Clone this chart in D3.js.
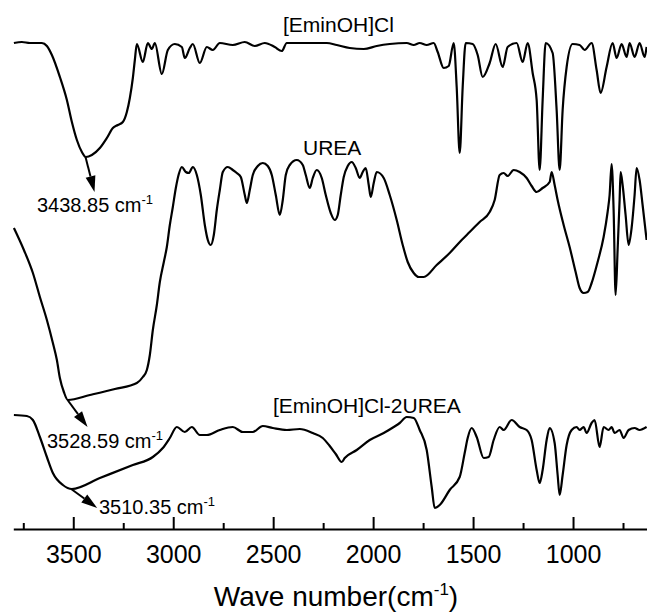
<!DOCTYPE html>
<html><head><meta charset="utf-8">
<script src="https://cdn.jsdelivr.net/npm/d3@7"></script>
<style>
html,body{margin:0;padding:0;background:#fff;}
text{font-family:"Liberation Sans",Arial,sans-serif;fill:#000;}
</style></head>
<body><svg id="chart" width="647" height="616"></svg>
<script>
// wave numbers (cm^-1) and transmittance (offset, a.u.)
const ilWave = [3797,3757,3717,3657,3632,3607,3567,3532,3507,3482,3457,3437,3407,3367,3332,3302,3277,3252,3232,3217,3202,3192,3182,3152,3127,3107,3092,3057,3027,2992,2957,2942,2917,2902,2867,2832,2802,2767,2702,2642,2592,2542,2492,2457,2432,2367,2282,2232,2182,2117,2047,1982,1917,1832,1797,1767,1732,1697,1677,1647,1622,1597,1582,1567,1552,1537,1502,1477,1452,1417,1387,1352,1327,1282,1252,1227,1202,1182,1167,1152,1137,1102,1082,1067,1052,1032,1002,967,942,907,882,862,832,802,782,757,732,717,692,667,642,632];
const ilT = [97.2,97.4,97.2,97.2,96.6,94.8,90.4,85.8,81.4,77.8,75.4,74.4,74.8,76.2,78.2,80.2,80.8,81.4,83.4,86.2,90.2,93.8,97.0,93.4,97.2,96.0,97.2,91.0,95.8,97.0,96.4,94.2,96.2,97.0,93.2,96.4,95.8,97.2,96.8,97.4,96.6,97.2,96.4,95.6,97.2,97.2,97.2,97.2,96.8,96.2,96.0,96.6,97.0,97.2,96.8,97.2,96.8,97.2,95.4,92.2,92.6,97.2,88.4,75.2,88.4,97.2,97.0,94.8,90.4,93.2,97.0,92.4,96.4,97.2,93.4,97.2,91.2,85.8,71.8,85.8,97.2,95.2,83.8,71.8,83.8,92.4,97.0,96.8,95.8,97.2,91.8,87.2,92.4,97.2,94.2,97.0,94.4,97.2,94.4,97.2,94.4,96.4];

const ureaWave = [3797,3747,3702,3667,3632,3602,3582,3567,3547,3527,3417,3292,3182,3152,3132,3117,3102,3082,3067,3047,3032,3017,3002,2987,2972,2957,2937,2922,2902,2882,2862,2842,2827,2812,2797,2782,2767,2752,2727,2702,2682,2662,2642,2632,2617,2602,2577,2552,2527,2507,2487,2467,2452,2437,2417,2382,2352,2337,2317,2302,2282,2257,2237,2212,2192,2177,2162,2147,2127,2107,2087,2067,2052,2037,2022,2012,1997,1982,1947,1917,1882,1852,1827,1797,1772,1747,1682,1617,1557,1517,1467,1417,1392,1367,1347,1327,1297,1267,1232,1207,1182,1152,1117,1107,1092,1077,1047,1017,987,967,947,927,907,877,847,827,817,807,797,787,777,767,762,752,737,722,707,692,682,667,652,632];
const ureaT = [60.2,55.8,51.2,46.4,41.8,37.2,33.8,30.2,27.4,25.8,26.8,28.0,29.2,30.4,31.8,34.8,39.8,44.8,49.4,53.4,56.4,60.8,64.4,68.2,71.0,72.4,71.4,71.2,72.4,70.8,66.8,60.8,57.8,56.8,58.8,63.8,67.8,71.4,72.4,71.8,71.2,70.4,66.8,65.2,67.8,70.8,72.6,73.2,72.6,70.8,66.8,62.8,65.8,70.8,72.8,73.8,72.8,70.8,68.2,70.2,71.8,70.2,66.8,63.2,61.8,62.8,66.8,70.4,72.6,73.4,72.2,70.2,71.4,72.2,68.8,66.4,69.2,71.4,70.2,66.8,61.8,56.8,53.4,51.2,50.4,50.4,52.8,55.2,57.8,59.4,61.4,63.4,65.8,70.8,71.2,70.6,71.8,71.4,70.2,68.6,67.4,68.2,69.4,71.4,68.8,65.8,60.8,56.4,51.4,48.2,47.2,47.4,49.2,53.4,58.4,63.4,66.8,73.0,63.8,46.8,55.8,65.8,71.4,68.8,62.8,56.8,60.2,66.8,72.2,69.8,64.8,57.8];

const desWave = [3797,3732,3702,3667,3632,3602,3552,3507,3367,3202,3102,3052,3017,2982,2942,2907,2867,2832,2767,2702,2652,2602,2552,2502,2432,2367,2302,2252,2217,2187,2157,2142,2082,2017,1947,1897,1867,1832,1797,1767,1732,1707,1692,1667,1617,1567,1542,1527,1507,1482,1447,1422,1397,1367,1347,1307,1267,1232,1207,1182,1167,1152,1132,1117,1092,1077,1067,1052,1032,1007,982,967,947,932,907,892,867,847,822,807,792,767,747,722,692,667,632];
const desT = [22.8,22.6,21.8,18.4,14.4,11.2,8.8,8.0,10.2,12.8,14.4,16.2,18.2,20.4,19.4,20.4,18.8,18.8,19.8,20.4,19.4,19.4,20.6,20.2,19.8,20.0,19.2,18.2,16.6,15.0,13.4,14.2,15.8,17.8,19.2,20.4,21.2,22.4,22.2,19.8,15.8,8.4,4.2,4.8,7.8,10.4,15.2,18.2,20.2,18.4,14.2,14.4,17.8,20.4,19.8,21.8,20.4,19.8,17.8,11.8,9.2,11.8,17.8,20.2,17.2,10.8,6.8,10.8,16.8,19.8,20.4,19.8,20.4,19.2,21.2,21.8,16.4,20.4,19.8,20.4,19.2,19.8,18.2,19.8,20.2,19.8,20.4];

const seriesNames = ["[EminOH]Cl", "UREA", "[EminOH]Cl-2UREA"];
const majorTicks = [3500, 3000, 2500, 2000, 1500, 1000];
const minorTicks = [3750, 3250, 2750, 2250, 1750, 1250, 750];
const peakWaves = [3438.85, 3528.59, 3510.35];
const peakT = [74.4, 25.8, 8.0];

const svg = d3.select("#chart");
const x = d3.scaleLinear().domain([3800, 630]).range([13.3, 647]);
const y = d3.scaleLinear().domain([0, 100]).range([529, 29]);

const line = d3.line().x(d => x(d[0])).y(d => y(d[1])).curve(d3.curveMonotoneX);
const seriesData = [
  d3.zip(ilWave, ilT),
  d3.zip(ureaWave, ureaT),
  d3.zip(desWave, desT)
];
svg.append("g").selectAll("path").data(seriesData).join("path")
  .attr("d", line).attr("fill", "none").attr("stroke", "#000")
  .attr("stroke-width", 2.2).attr("stroke-linejoin", "round");

// axis
const axMinor = d3.axisBottom(x).tickValues(minorTicks).tickSize(-6).tickSizeOuter(0).tickFormat("");
const gMinor = svg.append("g").attr("transform", "translate(0,529)").call(axMinor);
gMinor.select(".domain").remove();
gMinor.selectAll("line").attr("stroke", "#000").attr("stroke-width", 2);
const axMajor = d3.axisBottom(x).tickValues(majorTicks).tickSize(-12).tickSizeOuter(0).tickPadding(16).tickFormat(d3.format("d"));
const gMajor = svg.append("g").attr("transform", "translate(0,529)").call(axMajor);
gMajor.select(".domain").attr("stroke", "#000").attr("stroke-width", 2);
gMajor.selectAll("line").attr("stroke", "#000").attr("stroke-width", 2);
gMajor.selectAll("text").attr("font-size", 25).style("font-family", "Liberation Sans, Arial, sans-serif").attr("fill", "#000");

// axis title
const title = svg.append("text").attr("x", 336).attr("y", 606).attr("text-anchor", "middle").attr("font-size", 28);
title.append("tspan").text("Wave number(cm");
title.append("tspan").attr("font-size", 17).attr("dy", -11).text("-1");
title.append("tspan").attr("dy", 11).text(")");

// series labels
const labelPos = [[283, 32], [303, 155], [273, 413]];
svg.selectAll("text.series").data(seriesNames).join("text").attr("class", "series")
  .attr("x", (d, i) => labelPos[i][0]).attr("y", (d, i) => labelPos[i][1])
  .attr("font-size", 21).text(d => d);

// annotations
const arrowOff = [[9, 35], [20, 27], [26, 19]];
const textPos = [[37, 212], [47, 448], [99, 514]];
peakWaves.forEach((w, i) => {
  const x0 = x(w), y0 = y(peakT[i]);
  const x1 = x0 + arrowOff[i][0], y1 = y0 + arrowOff[i][1];
  const ang = Math.atan2(y1 - y0, x1 - x0);
  const L = 16, W = 5;
  const bx = x1 - L * Math.cos(ang), by = y1 - L * Math.sin(ang);
  svg.append("line").attr("x1", x0).attr("y1", y0).attr("x2", bx).attr("y2", by)
    .attr("stroke", "#000").attr("stroke-width", 2);
  svg.append("path").attr("d",
    `M${x1},${y1}L${bx + W * Math.sin(ang)},${by - W * Math.cos(ang)}L${bx - W * Math.sin(ang)},${by + W * Math.cos(ang)}Z`)
    .attr("fill", "#000");
  const t = svg.append("text").attr("x", textPos[i][0]).attr("y", textPos[i][1]).attr("font-size", 20);
  t.append("tspan").text(d3.format(".2f")(w) + " cm");
  t.append("tspan").attr("font-size", 13).attr("dy", -8).text("-1");
});
</script></body></html>
